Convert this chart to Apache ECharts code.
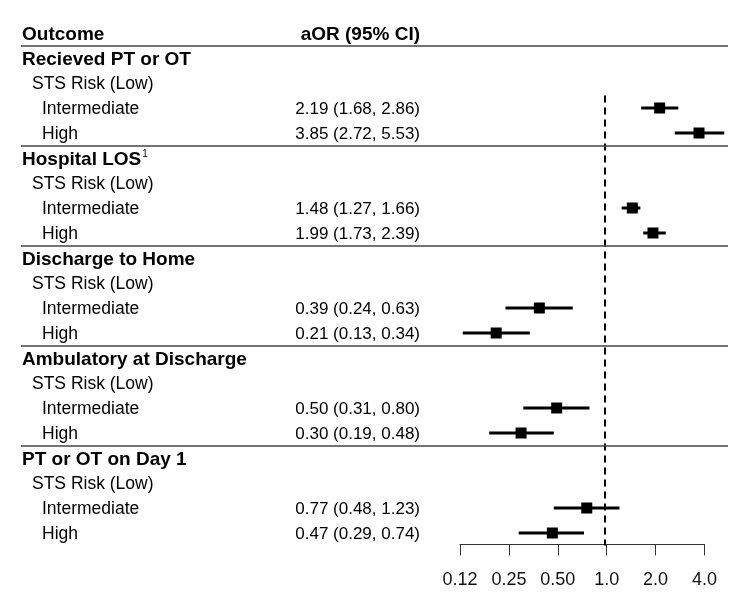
<!DOCTYPE html>
<html>
<head>
<meta charset="utf-8">
<script src="https://cdn.jsdelivr.net/npm/echarts@6/dist/echarts.min.js"></script>
<style>
  html, body { margin: 0; padding: 0; background: #fff; }
  #chart { width: 750px; height: 611px; }
</style>
</head>
<body>
<div id="chart"></div>
<script>
const outcomes = ['Recieved PT or OT', 'Hospital LOS', 'Discharge to Home', 'Ambulatory at Discharge', 'PT or OT on Day 1']
const outcomeNotes = ['', '1', '', '', '']
const referenceLabel = 'STS Risk (Low)'
const levels = ['Intermediate', 'High']
const aor = [[2.19, 3.85], [1.48, 1.99], [0.39, 0.21], [0.50, 0.30], [0.77, 0.47]]
const ciLow = [[1.68, 2.72], [1.27, 1.73], [0.24, 0.13], [0.31, 0.19], [0.48, 0.29]]
const ciHigh = [[2.86, 5.53], [1.66, 2.39], [0.63, 0.34], [0.80, 0.48], [1.23, 0.74]]
const xTickLabels = ['0.12', '0.25', '0.50', '1.0', '2.0', '4.0']
const headers = ['Outcome', 'aOR (95% CI)']

const font = "'Liberation Sans', Arial, sans-serif"

// build table rows: header, then per outcome: heading, reference, levels
let rows = [{ kind: 'header' }]
let separators = [1]
outcomes.forEach((name, g) => {
  if (g > 0) separators.push(rows.length)
  rows.push({ kind: 'heading', text: name, note: outcomeNotes[g] })
  rows.push({ kind: 'ref', text: referenceLabel })
  levels.forEach((lv, k) => {
    rows.push({ kind: 'item', text: lv, est: aor[g][k], lo: ciLow[g][k], hi: ciHigh[g][k] })
  })
})
const rowIds = rows.map((r, i) => String(i))

let pointData = []
let ciData = []
rows.forEach((r, i) => {
  if (r.kind === 'item') {
    pointData.push([r.est, i])
    ciData.push([i, r.lo, r.hi])
  }
})
const firstItem = rows.findIndex(r => r.kind === 'item')

const chart = echarts.init(document.getElementById('chart'), null, { renderer: 'canvas' })

const rowTop = 20.5
const rowsHeight = 525
const plotLeft = 460
const perDoubling = 48.9

const option = {
  animation: false,
  textStyle: { fontFamily: font },
  grid: [
    { left: 21, right: 22, top: rowTop, height: rowsHeight },
    { left: plotLeft, width: perDoubling * 6, top: rowTop, height: rowsHeight },
    { left: plotLeft, width: perDoubling * 5, top: 534.5, height: 10 }
  ],
  xAxis: [
    { gridIndex: 0, type: 'value', min: 0, max: 1, show: false },
    { gridIndex: 1, type: 'log', logBase: 2, min: 0.125, max: 8, show: false },
    {
      gridIndex: 2, type: 'log', logBase: 2, min: 0.125, max: 4, splitNumber: 5,
      position: 'bottom',
      axisLine: { show: true, lineStyle: { color: '#333', width: 1 } },
      axisTick: { show: true, length: 11, lineStyle: { color: '#333', width: 1 } },
      splitLine: { show: false },
      minorTick: { show: false },
      axisLabel: {
        margin: 27, color: '#111', fontSize: 18, fontFamily: font,
        formatter: (v, i) => xTickLabels[i]
      }
    }
  ],
  yAxis: [
    {
      gridIndex: 0, type: 'category', data: rowIds, inverse: true,
      axisLine: { show: false }, axisTick: { show: false }, splitLine: { show: false },
      axisLabel: {
        inside: true, margin: 1, align: 'left', interval: 0,
        formatter: (v) => {
          const r = rows[+v]
          if (r.kind === 'header') return '{h|' + headers[0] + '}'
          if (r.kind === 'heading') return '{h|' + r.text + '}' + (r.note ? '{sup|' + r.note + '}' : '')
          if (r.kind === 'ref') return '{s|' + r.text + '}'
          return '{l|' + r.text + '}'
        },
        rich: {
          h: { fontSize: 19, fontWeight: 'bold', color: '#000', fontFamily: font, padding: [4, 0, 0, 0] },
          sup: { fontSize: 10, color: '#000', fontFamily: font, padding: [0, 0, 8, 1] },
          s: { fontSize: 17.5, color: '#000', fontFamily: font, padding: [2, 0, 0, 10] },
          l: { fontSize: 17.5, color: '#000', fontFamily: font, padding: [2, 0, 0, 20] }
        }
      }
    },
    {
      gridIndex: 0, type: 'category', data: rowIds, inverse: true, position: 'left',
      axisLine: { show: false }, axisTick: { show: false }, splitLine: { show: false },
      axisLabel: {
        inside: true, margin: 399, align: 'right', interval: 0,
        formatter: (v) => {
          const r = rows[+v]
          if (r.kind === 'header') return '{h|' + headers[1] + '}'
          if (r.kind === 'item') return '{v|' + r.est.toFixed(2) + ' (' + r.lo.toFixed(2) + ', ' + r.hi.toFixed(2) + ')}'
          return ''
        },
        rich: {
          h: { fontSize: 19, fontWeight: 'bold', color: '#000', fontFamily: font, padding: [4, 0, 0, 0] },
          v: { fontSize: 17, color: '#000', fontFamily: font, padding: [2, 0, 0, 0] }
        }
      }
    },
    { gridIndex: 0, type: 'value', min: 0, max: rows.length, inverse: true, show: false },
    { gridIndex: 1, type: 'category', data: rowIds, inverse: true, show: false },
    { gridIndex: 2, type: 'value', show: false }
  ],
  series: [
    {
      // horizontal rules between outcome blocks
      type: 'line', xAxisIndex: 0, yAxisIndex: 2, data: [], silent: true,
      markLine: {
        symbol: 'none', silent: true, label: { show: false },
        lineStyle: { color: '#444', width: 1.5, type: 'solid' },
        data: separators.map(v => ({ yAxis: v }))
      }
    },
    {
      // null line at OR = 1
      type: 'custom', xAxisIndex: 1, yAxisIndex: 3, silent: true,
      data: [[1, firstItem, rows.length - 1]],
      renderItem: (params, api) => {
        const band = api.size([0, 1])[1]
        const top = api.coord([api.value(0), api.value(1)])
        const bot = api.coord([api.value(0), api.value(2)])
        return {
          type: 'line',
          shape: { x1: top[0], y1: top[1] - band / 2, x2: bot[0], y2: bot[1] + band / 2 },
          style: { stroke: '#000', lineWidth: 2, lineDash: [7, 5] }
        }
      }
    },
    {
      // confidence intervals
      type: 'custom', xAxisIndex: 1, yAxisIndex: 3, silent: true,
      encode: { x: [1, 2], y: 0 },
      data: ciData,
      renderItem: (params, api) => {
        const a = api.coord([api.value(1), api.value(0)])
        const b = api.coord([api.value(2), api.value(0)])
        return {
          type: 'line',
          shape: { x1: a[0], y1: a[1], x2: b[0], y2: b[1] },
          style: { stroke: '#000', lineWidth: 3 }
        }
      }
    },
    {
      type: 'scatter', xAxisIndex: 1, yAxisIndex: 3, silent: true,
      symbol: 'rect', symbolSize: 11,
      itemStyle: { color: '#000', opacity: 1 },
      data: pointData
    }
  ]
}

chart.setOption(option)
</script>
</body>
</html>
